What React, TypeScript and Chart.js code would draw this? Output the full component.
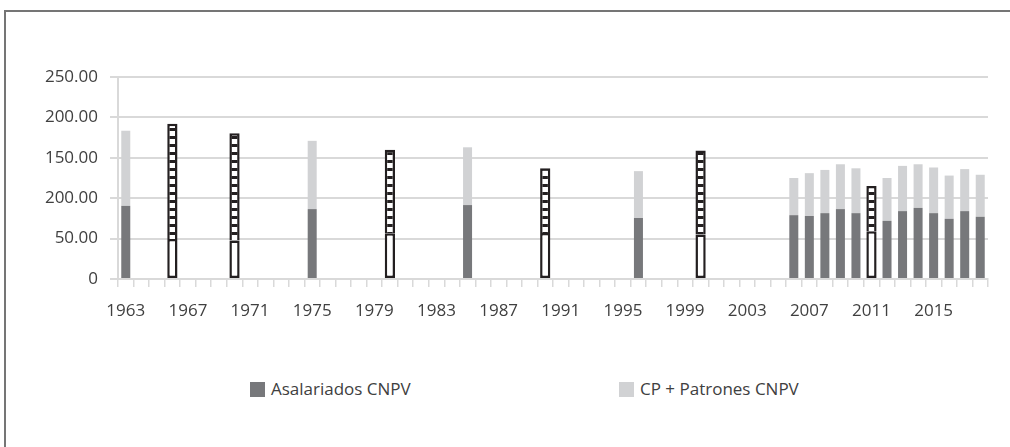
import React, { useEffect, useRef } from 'react';
import { Chart, registerables } from 'chart.js';

Chart.register(...registerables);

// Categories: every year from 1963 to 2018
const years: number[] = Array.from({ length: 56 }, (_, i) => 1963 + i);

// Census years (stacked grey bars)
const censusYears = [1963, 1975, 1985, 1996, 2006, 2007, 2008, 2009, 2010, 2012, 2013, 2014, 2015, 2016, 2017, 2018];
const asalariados = [90.5, 86.5, 91.5, 75.5, 79, 78, 81.5, 86.5, 81.5, 72, 84, 88, 81.5, 74.5, 84, 77];
const cpPatrones = [93, 84.5, 71.5, 58, 46, 53, 53.5, 55.5, 55.5, 53, 56, 54, 56.5, 53.5, 52, 52];

// Other source years (outlined bars, not in legend)
const otherYears = [1966, 1970, 1980, 1990, 2000, 2011];
const otherLower = [49.5, 47.5, 56.5, 57, 55, 59];
const otherUpper = [142.5, 133, 103.5, 80, 104, 56];

const yTickValues = [0, 50, 100, 150, 200, 250];
const yTickLabels = ['0', '50.00', '200.00', '150.00', '200.00', '250.00'];

const legendLabels = ['Asalariados CNPV', 'CP + Patrones CNPV'];

const DARK = '#77787b';
const LIGHT = '#d1d2d4';
const INK = '#231f20';
const GRID = '#d9d9d9';
const TEXT = '#404040';
const FONT = "'Open Sans', sans-serif";

function spread(ys: number[], vals: number[]): (number | null)[] {
  return years.map((y) => {
    const i = ys.indexOf(y);
    return i >= 0 ? vals[i] : null;
  });
}

export default function App() {
  const ref = useRef<HTMLCanvasElement | null>(null);

  useEffect(() => {
    const canvas = ref.current;
    if (!canvas) return;

    const pc = document.createElement('canvas');
    pc.width = 12;
    pc.height = 8;
    const pctx = pc.getContext('2d')!;
    pctx.fillStyle = '#ffffff';
    pctx.fillRect(0, 0, 12, 8);
    pctx.fillStyle = INK;
    pctx.fillRect(0, 0, 12, 3);
    const pattern = canvas.getContext('2d')!.createPattern(pc, 'repeat')!;

    const chart = new Chart(canvas, {
      type: 'bar',
      data: {
        labels: years.map(String),
        datasets: [
          {
            label: legendLabels[0],
            data: spread(censusYears, asalariados),
            backgroundColor: DARK,
            stack: 's',
            barPercentage: 0.58,
            categoryPercentage: 1,
          },
          {
            label: legendLabels[1],
            data: spread(censusYears, cpPatrones),
            backgroundColor: LIGHT,
            stack: 's',
            barPercentage: 0.58,
            categoryPercentage: 1,
          },
          {
            label: 'lower',
            data: spread(otherYears, otherLower),
            backgroundColor: '#ffffff',
            borderColor: INK,
            borderWidth: 2.5,
            borderSkipped: false,
            stack: 's',
            barPercentage: 0.66,
            categoryPercentage: 1,
          },
          {
            label: 'upper',
            data: spread(otherYears, otherUpper),
            backgroundColor: pattern,
            borderColor: INK,
            borderWidth: 2.5,
            borderSkipped: 'start',
            stack: 's',
            barPercentage: 0.66,
            categoryPercentage: 1,
          },
        ] as any,
      },
      options: {
        responsive: false,
        animation: false,
        devicePixelRatio: 1,
        layout: { padding: { top: 77, right: 22, left: 0, bottom: 0 } },
        plugins: {
          legend: { display: false },
          tooltip: { enabled: false },
        },
        scales: {
          x: {
            stacked: true,
            offset: true,
            grid: {
              offset: true,
              drawOnChartArea: false,
              drawTicks: true,
              tickLength: 8,
              color: GRID,
              lineWidth: 1.5,
            },
            border: { display: true, color: GRID, width: 2 },
            ticks: {
              autoSkip: false,
              maxRotation: 0,
              minRotation: 0,
              padding: 14,
              color: TEXT,
              font: { family: FONT, size: 17 },
              callback: (_v: any, i: number) => (i % 4 === 0 ? String(years[i]) : ''),
            },
            afterFit: (s: any) => {
              s.height = 41;
            },
          },
          y: {
            stacked: true,
            min: 0,
            max: 250,
            afterBuildTicks: (s: any) => {
              s.ticks = yTickValues.map((v) => ({ value: v }));
            },
            ticks: {
              padding: 12,
              color: TEXT,
              font: { family: FONT, size: 17 },
              callback: (v: any) => yTickLabels[yTickValues.indexOf(Number(v))] ?? '',
            },
            grid: { color: GRID, lineWidth: 2, tickLength: 8 },
            border: { display: true, color: GRID, width: 2 },
            afterFit: (s: any) => {
              s.width = 118;
            },
          },
        },
      } as any,
    });

    return () => chart.destroy();
  }, []);

  const legendText: React.CSSProperties = {
    position: 'absolute',
    top: 377,
    fontFamily: FONT,
    fontSize: 17,
    lineHeight: '23px',
    color: TEXT,
    whiteSpace: 'nowrap',
  };
  const box: React.CSSProperties = { position: 'absolute', top: 382, width: 15, height: 15 };

  return (
    <div style={{ position: 'absolute', left: 0, top: 0, width: 1010, height: 447, overflow: 'hidden', background: '#fff' }}>
      <div
        style={{
          position: 'absolute',
          left: 4,
          top: 10,
          width: 1100,
          height: 500,
          borderLeft: '2px solid #757575',
          borderTop: '2px solid #757575',
        }}
      />
      <canvas ref={ref} width={1010} height={320} style={{ position: 'absolute', left: 0, top: 0, width: 1010, height: 320 }} />
      <div style={{ ...box, left: 250, background: DARK }} />
      <div style={{ ...legendText, left: 271 }}>{legendLabels[0]}</div>
      <div style={{ ...box, left: 619, background: LIGHT }} />
      <div style={{ ...legendText, left: 640 }}>{legendLabels[1]}</div>
    </div>
  );
}
